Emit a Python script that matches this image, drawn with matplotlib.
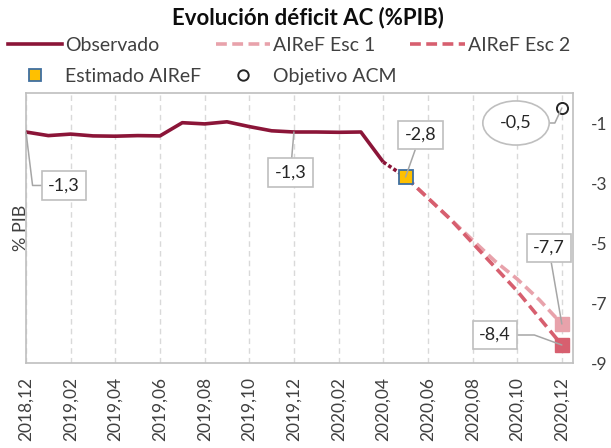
import matplotlib
matplotlib.use('Agg')
import matplotlib.pyplot as plt
from matplotlib.lines import Line2D

plt.rcParams['font.family'] = ['Lato', 'DejaVu Sans']
plt.rcParams['axes.unicode_minus'] = False

# month labels, 2018,12 .. 2020,12
months = ['2018,12', '2019,01', '2019,02', '2019,03', '2019,04', '2019,05', '2019,06',
          '2019,07', '2019,08', '2019,09', '2019,10', '2019,11', '2019,12',
          '2020,01', '2020,02', '2020,03', '2020,04', '2020,05', '2020,06',
          '2020,07', '2020,08', '2020,09', '2020,10', '2020,11', '2020,12']

# observed deficit (% GDP), 2018,12 .. 2020,04
observado = [-1.3, -1.42, -1.37, -1.43, -1.44, -1.42, -1.43, -0.99, -1.03, -0.96,
             -1.12, -1.26, -1.3, -1.3, -1.31, -1.3, -2.3]
# AIReF estimate for 2020,05
estimado_idx = 17
estimado = -2.8
# scenarios 2020,05 .. 2020,12
esc1 = [-2.8, -3.5, -4.2, -4.9, -5.6, -6.2, -6.9, -7.7]
esc2 = [-2.8, -3.5, -4.2, -5.0, -5.8, -6.6, -7.5, -8.4]
# ACM target for 2020,12
objetivo = -0.5

yticks = [-1, -3, -5, -7, -9]
ytick_labels = ['-1', '-3', '-5', '-7', '-9']

c_obs = '#8B1538'
c_esc1 = '#E8A2AB'
c_esc2 = '#D75F6F'
c_gray = '#BFBFBF'
c_text = '#404040'


def fmt(v):
    return f'{v:.1f}'.replace('.', ',')


fig = plt.figure(figsize=(6.11, 4.48), dpi=100)
ax = fig.add_axes([26 / 611, 1 - 363 / 448, (573 - 26) / 611, (363 - 93) / 448])

x_obs = list(range(len(observado)))
x_esc = list(range(estimado_idx, estimado_idx + len(esc1)))
last = len(months) - 1

ax.plot(x_obs, observado, color=c_obs, lw=2.6, solid_capstyle='butt', zorder=4)
# dotted link between last observation and estimate
ax.plot([x_obs[-1], estimado_idx], [observado[-1], estimado], color=c_obs, lw=2.6,
        ls=(0, (1, 0.7)), zorder=4)
ax.plot(x_esc, esc1, color=c_esc1, lw=2.6, ls=(0, (3, 1.5)), zorder=3)
ax.plot(x_esc, esc2, color=c_esc2, lw=2.6, ls=(0, (3, 1.5)), zorder=3)
ax.plot([x_esc[-1]], [esc1[-1]], 's', color=c_esc1, ms=9.5, zorder=5)
ax.plot([x_esc[-1]], [esc2[-1]], 's', color=c_esc2, ms=9.5, zorder=5)
ax.plot([estimado_idx], [estimado], 's', mfc='#FFC000', mec='#3F6FA0', mew=1.3, ms=10, zorder=6)
ax.plot([last], [objetivo], 'o', mfc='white', mec='#262626', mew=1.4, ms=8, zorder=6)

ax.set_xlim(0, 24.5)
ax.set_ylim(-9, 0)
ax.set_xticks(range(0, len(months), 2))
ax.set_xticklabels(months[::2], rotation=90, fontsize=12.5, color=c_text)
ax.set_yticks(yticks)
ax.set_yticklabels(ytick_labels, fontsize=12.5, color=c_text)
ax.yaxis.tick_right()
ax.tick_params(axis='x', length=0, pad=10)
ax.tick_params(axis='y', length=0, pad=13)
ax.grid(axis='x', color='#D9D9D9', ls=(0, (4, 3)), lw=1)
for s in ax.spines.values():
    s.set_color(c_gray)
    s.set_linewidth(1.2)
ax.set_ylabel('% PIB', fontsize=13, color=c_text, labelpad=-2)
ax.yaxis.set_label_position('left')

box = dict(boxstyle='square,pad=0.35', fc='white', ec=c_gray, lw=1.2)
lead = dict(arrowstyle='-', color='#A6A6A6', lw=1.1, shrinkA=0, shrinkB=0)

ax.annotate(fmt(observado[0]), xy=(0, observado[0]), xytext=(27.4, -38.5),
            textcoords='offset points', ha='center', va='center', fontsize=13, color='#262626',
            bbox=box, arrowprops=dict(lead, connectionstyle='angle,angleA=180,angleB=97,rad=0'),
            zorder=7)
ax.annotate(fmt(observado[12]), xy=(12, observado[12]), xytext=(-2.5, -29.2),
            textcoords='offset points', ha='center', va='center', fontsize=13, color='#262626',
            bbox=box, arrowprops=lead, zorder=7)
ax.annotate(fmt(estimado), xy=(estimado_idx, estimado), xytext=(10.7, 30.2),
            textcoords='offset points', ha='center', va='center', fontsize=13, color='#262626',
            bbox=box, arrowprops=lead, zorder=7)
ax.annotate(fmt(objetivo), xy=(last, objetivo), xytext=(-33, -10.8),
            textcoords='offset points', ha='center', va='center', fontsize=13, color='#262626',
            bbox=dict(boxstyle='ellipse,pad=0.42', fc='white', ec=c_gray, lw=1.2),
            arrowprops=dict(lead, connectionstyle='angle,angleA=0,angleB=65,rad=0'), zorder=7)
ax.annotate(fmt(esc1[-1]), xy=(last, esc1[-1]), xytext=(-9.4, 54.7),
            textcoords='offset points', ha='center', va='center', fontsize=13, color='#262626',
            bbox=box, arrowprops=lead, zorder=7)
ax.annotate(fmt(esc2[-1]), xy=(last, esc2[-1]), xytext=(-48.3, 7.2),
            textcoords='offset points', ha='center', va='center', fontsize=13, color='#262626',
            bbox=box, arrowprops=dict(lead, connectionstyle='angle,angleA=0,angleB=160,rad=0'),
            zorder=7)

fig.text(0.504, 1 - 18 / 448, 'Evolución déficit AC (%PIB)', ha='center', va='center',
         fontsize=16, fontweight='bold', color='#0D0D0D')

handles = [
    Line2D([], [], color=c_obs, lw=2.6),
    Line2D([], [], ls='none', marker='s', mfc='#FFC000', mec='#3F6FA0', mew=1.3, ms=9),
    Line2D([], [], color=c_esc1, lw=2.6, ls=(0, (3, 1.5))),
    Line2D([], [], ls='none', marker='o', mfc='white', mec='#262626', mew=1.4, ms=7.5),
    Line2D([], [], color=c_esc2, lw=2.6, ls=(0, (3, 1.5))),
]
labels = ['Observado', 'Estimado AIReF', 'AIReF Esc 1', 'Objetivo ACM', 'AIReF Esc 2']
leg = fig.legend(handles, labels, ncol=3, loc='upper left', mode='expand',
                 bbox_to_anchor=(8 / 611, 1 - 37 / 448, 562 / 611, 0),
                 frameon=False, fontsize=14, handlelength=2.8, handletextpad=0.15,
                 columnspacing=0.5, labelspacing=0.72, borderpad=0, borderaxespad=0)
for t in leg.get_texts():
    t.set_color(c_text)

fig.savefig('out.png', dpi=100)
